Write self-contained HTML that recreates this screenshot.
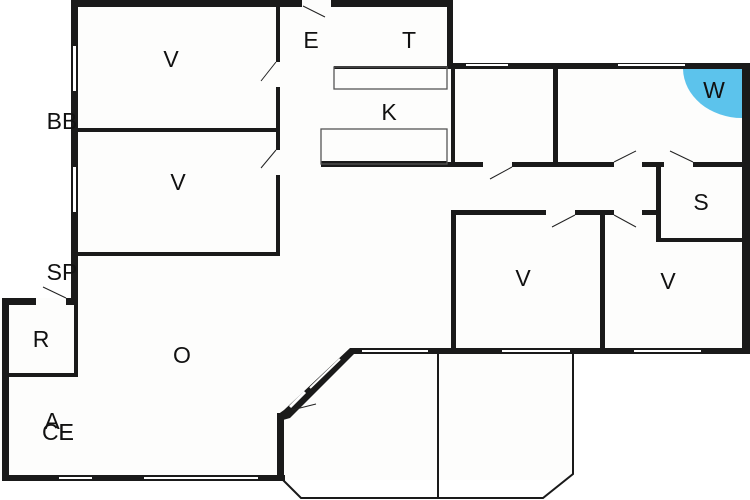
<!DOCTYPE html>
<html><head><style>body{margin:0;background:#fff}svg{display:block}text{font-family:"Liberation Sans",sans-serif;font-size:23px;fill:#111;text-anchor:middle}</style></head><body>
<svg width="750" height="500" viewBox="0 0 750 500">
<rect width="750" height="500" fill="#fdfdfc"/>
<rect x="0" y="0" width="71" height="298" fill="#fff"/>
<rect x="453" y="0" width="297" height="63" fill="#fff"/>
<rect x="573" y="354" width="177" height="146" fill="#fff"/>
<path d="M750,480 L0,480 L0,500 L750,500Z" fill="#fff"/>
<path d="M283,480 L300,498 L542,498 L573,474 L573,354 L750,354 L750,500 L0,500 L0,481 L283,481Z" fill="#fff"/>
<path d="M742,69 L683,69 A59,50 0 0 0 742,118Z" fill="#5cc3ec"/>
<g fill="#1a1a1a">
<rect x="71" y="0" width="231" height="7"/><rect x="331" y="0" width="122" height="7"/>
<rect x="447" y="0" width="6" height="69"/>
<rect x="447" y="63" width="303" height="6"/>
<rect x="742" y="63" width="8" height="291"/>
<rect x="71" y="0" width="7" height="305"/>
<rect x="276" y="7" width="4" height="55"/><rect x="276" y="87" width="4" height="63"/><rect x="276" y="175" width="4" height="81"/>
<rect x="78" y="128" width="200" height="4"/><rect x="78" y="252" width="202" height="4"/>
<rect x="2" y="298" width="34" height="7"/><rect x="66" y="298" width="12" height="7"/>
<rect x="2" y="298" width="7" height="183"/>
<rect x="74" y="305" width="4" height="72"/><rect x="9" y="373" width="69" height="4"/>
<rect x="2" y="475" width="283" height="6"/>
<rect x="277" y="413" width="7" height="68"/>
<rect x="350" y="348" width="400" height="6"/>
<rect x="321" y="162" width="162" height="5"/><rect x="512" y="162" width="102" height="5"/><rect x="642" y="162" width="22" height="5"/><rect x="693" y="162" width="52" height="5"/>
<rect x="451" y="63" width="4" height="104"/><rect x="553" y="63" width="5" height="104"/>
<rect x="656" y="162" width="5" height="80"/><rect x="656" y="238" width="90" height="4"/>
<rect x="451" y="210" width="95" height="5"/><rect x="575" y="210" width="39" height="5"/><rect x="642" y="210" width="18" height="5"/>
<rect x="451" y="210" width="5" height="144"/><rect x="600" y="210" width="5" height="144"/>
<rect x="334" y="66" width="113" height="3"/><rect x="321" y="161" width="126" height="3"/>
</g>
<polygon points="350,348 356,352 290,418 283,420 277,415 284,410" fill="#1a1a1a"/>
<g fill="#fff">
<rect x="73" y="46" width="3" height="45"/><rect x="73" y="167" width="3" height="45"/>
<rect x="59" y="477" width="33" height="2"/><rect x="144" y="477" width="114" height="2"/>
<rect x="466" y="64" width="42" height="2"/><rect x="618" y="64" width="67" height="2"/>
<rect x="362" y="350" width="66" height="2"/><rect x="502" y="350" width="68" height="2"/><rect x="634" y="350" width="67" height="2"/>
</g>
<line x1="340" y1="359" x2="310" y2="388" stroke="#fff" stroke-width="2"/>
<line x1="305" y1="392" x2="290" y2="407" stroke="#fff" stroke-width="3"/>
<g fill="none" stroke="#555" stroke-width="1.3">
<rect x="334" y="67" width="113" height="22"/><rect x="321" y="129" width="126" height="35"/>
</g>
<g fill="none" stroke="#1a1a1a" stroke-width="2">
<path d="M283,480 L301,498 L543,498 L573,474 L573,352"/>
<line x1="438" y1="352" x2="438" y2="498"/>
</g>
<g stroke="#222" stroke-width="1">
<line x1="303" y1="6" x2="325" y2="17"/><line x1="276" y1="62" x2="261" y2="81"/><line x1="276" y1="150" x2="261" y2="168"/>
<line x1="66" y1="298" x2="43" y2="287"/><line x1="292" y1="410" x2="316" y2="404"/>
<line x1="512" y1="167" x2="490" y2="179"/><line x1="614" y1="162" x2="636" y2="151"/><line x1="670" y1="151" x2="693" y2="162"/>
<line x1="575" y1="215" x2="552" y2="227"/><line x1="614" y1="215" x2="636" y2="227"/>
</g>
<text x="171" y="67">V</text><text x="178" y="190">V</text><text x="311" y="48">E</text><text x="409" y="48">T</text><text x="389" y="120">K</text>
<text x="714" y="98">W</text><text x="701" y="210">S</text><text x="523" y="286">V</text><text x="668" y="289">V</text>
<text x="182" y="363">O</text><text x="41" y="347">R</text><text x="62" y="129">BB</text><text x="62" y="280">SP</text>
<text x="52" y="429">A</text><text x="58" y="440">CE</text><text x="66" y="440">E</text>
</svg></body></html>
